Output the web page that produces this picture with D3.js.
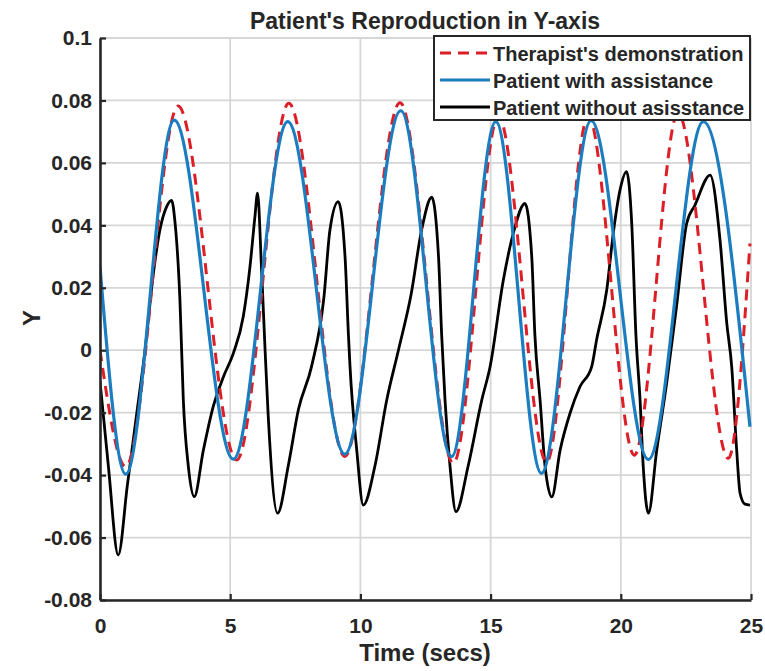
<!DOCTYPE html>
<html>
<head>
<meta charset="utf-8">
<script src="https://cdn.jsdelivr.net/npm/d3@7"></script>
<style>
  body { margin: 0; background: #fff; }
  text { font-family: 'Liberation Sans', Arial, sans-serif; font-weight: bold; fill: #262626; }
</style>
</head>
<body>
<svg id="chart" width="765" height="671"></svg>
<script>
// DATA
const therapist = [
  [0, 0.0], [0.99, -0.0373], [3.0, 0.0782], [5.25, -0.0352], [7.25, 0.0791],
  [9.4, -0.034], [11.52, 0.0793], [13.57, -0.0362], [15.3, 0.075], [17.15, -0.0358],
  [18.75, 0.075], [20.52, -0.0336], [22.2, 0.076], [24.13, -0.0346], [24.96, 0.0342]
];

const withAssist = [
  [0, 0.0267], [0.99, -0.0397], [2.85, 0.0737], [5.12, -0.0349], [7.21, 0.0732],
  [9.4, -0.0333], [11.55, 0.0767], [13.5, -0.0341], [15.2, 0.0732], [16.95, -0.0394],
  [18.86, 0.0735], [21.06, -0.035], [23.17, 0.0732], [24.96, -0.0245]
];

const withoutAssist = [
  [0, -0.01], [0.32, -0.037], [0.7, -0.0656], [1.05, -0.0433], [1.4, -0.021],
  [1.73, 0.0], [2.05, 0.0246], [2.3, 0.0385], [2.56, 0.046], [2.75, 0.048],
  [2.88, 0.041], [3.07, 0.016], [3.2, -0.016], [3.39, -0.037], [3.62, -0.0469],
  [3.97, -0.032], [4.35, -0.018], [4.74, -0.0085], [5.12, -0.001], [5.5, 0.0107],
  [5.76, 0.0268], [5.95, 0.0428], [6.05, 0.0503],
  [6.2, 0.0267], [6.34, 0.0], [6.46, -0.021], [6.82, -0.0522],
  [7.23, -0.037], [7.62, -0.019], [8.13, -0.005], [8.6, 0.017], [8.83, 0.0385], [9.15, 0.0476],
  [9.41, 0.03], [9.54, 0.005], [9.6, -0.005], [9.86, -0.032], [10.11, -0.0496],
  [10.56, -0.037], [11.01, -0.016], [11.46, 0.0], [11.95, 0.018], [12.35, 0.0385], [12.74, 0.049],
  [13.0, 0.03], [13.12, 0.005], [13.25, -0.016], [13.44, -0.037], [13.67, -0.0517],
  [14.14, -0.037], [14.66, -0.016], [14.98, -0.0053], [15.49, 0.0225], [15.87, 0.0374], [16.32, 0.047],
  [16.58, 0.03], [16.7, 0.005], [16.9, -0.016], [17.09, -0.037], [17.35, -0.047],
  [17.67, -0.032], [18.05, -0.0202], [18.43, -0.0117], [18.88, -0.0053], [19.07, 0.0033],
  [19.46, 0.0193], [19.71, 0.0374], [19.97, 0.0513], [20.22, 0.0572],
  [20.42, 0.0406], [20.58, 0.005], [20.74, -0.016], [20.86, -0.037], [21.06, -0.0522],
  [21.38, -0.032], [21.76, -0.0106], [22.14, 0.014], [22.53, 0.0406], [22.85, 0.0465], [23.43, 0.0561],
  [23.81, 0.0353], [24.07, 0.0086], [24.26, -0.0053], [24.45, -0.032], [24.58, -0.0458],
  [24.77, -0.0493], [24.96, -0.0496]
];

const xTicks = [0, 5, 10, 15, 20, 25];
const yTicks = [-0.08, -0.06, -0.04, -0.02, 0, 0.02, 0.04, 0.06, 0.08, 0.1];
const yTickLabels = ['-0.08', '-0.06', '-0.04', '-0.02', '0', '0.02', '0.04', '0.06', '0.08', '0.1'];

const seriesNames = ["Therapist's demonstration", 'Patient with assistance', 'Patient without asisstance'];

//SETUP
const svg = d3.select('#chart');
const plot = { left: 100, right: 751, top: 38, bottom: 600 };
const ink = '#262626';

const xScale = d3.scaleLinear().domain([0, 25]).range([plot.left, plot.right]);
const yScale = d3.scaleLinear().domain([-0.08, 0.1]).range([plot.bottom, plot.top]);

//GRID
const grid = svg.append('g').attr('stroke', '#d6d6d6').attr('stroke-width', 1.8);
grid.selectAll('.vgrid').data(xTicks).enter().append('line')
  .attr('x1', (d) => xScale(d)).attr('x2', (d) => xScale(d))
  .attr('y1', plot.top).attr('y2', plot.bottom);
grid.selectAll('.hgrid').data(yTicks).enter().append('line')
  .attr('y1', (d) => yScale(d)).attr('y2', (d) => yScale(d))
  .attr('x1', plot.left).attr('x2', plot.right);

//LINES
svg.append('clipPath').attr('id', 'clip').append('rect')
  .attr('x', plot.left).attr('y', plot.top - 10)
  .attr('width', plot.right - plot.left + 2).attr('height', plot.bottom - plot.top + 10);

const path = d3.line()
  .x((d) => xScale(d[0]))
  .y((d) => yScale(d[1]))
  .curve(d3.curveMonotoneX);

const lines = svg.append('g').attr('clip-path', 'url(#clip)').attr('fill', 'none');

lines.append('path').attr('d', path(withoutAssist))
  .attr('stroke', '#000').attr('stroke-width', 2.8).attr('stroke-linejoin', 'round');
lines.append('path').attr('d', path(therapist))
  .attr('stroke', '#dc1f26').attr('stroke-width', 3).attr('stroke-dasharray', '11,7');
lines.append('path').attr('d', path(withAssist))
  .attr('stroke', '#1b7dc0').attr('stroke-width', 3.2);

//AXIS
const xAxis = d3.axisBottom(xScale).tickValues(xTicks).tickSizeInner(-6).tickSizeOuter(0).tickPadding(18);
const gx = svg.append('g').attr('transform', `translate(0,${plot.bottom})`).call(xAxis);

const yAxis = d3.axisLeft(yScale).tickValues(yTicks).tickSizeInner(-6).tickSizeOuter(0).tickPadding(8)
  .tickFormat((d, i) => yTickLabels[i]);
const gy = svg.append('g').attr('transform', `translate(${plot.left},0)`).call(yAxis);

[gx, gy].forEach((g) => {
  g.select('.domain').attr('stroke', ink).attr('stroke-width', 2.6);
  g.selectAll('.tick line').attr('stroke', ink).attr('stroke-width', 2.2);
  g.selectAll('.tick text')
    .style('font-family', "'Liberation Sans', Arial, sans-serif")
    .style('font-weight', 'bold').style('font-size', '21px').attr('fill', ink);
});

//TEXT
svg.append('text').attr('x', 425).attr('y', 29).attr('text-anchor', 'middle')
  .style('font-size', '23px').text("Patient's Reproduction in Y-axis");

svg.append('text').attr('x', 425).attr('y', 661).attr('text-anchor', 'middle')
  .style('font-size', '24px').text('Time (secs)');

svg.append('text').attr('transform', 'translate(40,318) rotate(-90)').attr('text-anchor', 'middle')
  .style('font-size', '24px').text('Y');

//LEGEND
const legend = svg.append('g');
legend.append('rect').attr('x', 434).attr('y', 36).attr('width', 316).attr('height', 84)
  .attr('fill', '#fff').attr('stroke', ink).attr('stroke-width', 2);

const legendStyles = [
  { color: '#dc1f26', width: 3, dash: '11,7' },
  { color: '#1b7dc0', width: 3.2, dash: null },
  { color: '#000', width: 2.8, dash: null },
];

const rows = legend.selectAll('.row').data(seriesNames).enter().append('g')
  .attr('transform', (d, i) => `translate(0,${53 + i * 27})`);

rows.append('line').attr('x1', 440).attr('x2', 490).attr('y1', 0).attr('y2', 0)
  .attr('stroke', (d, i) => legendStyles[i].color)
  .attr('stroke-width', (d, i) => legendStyles[i].width)
  .attr('stroke-dasharray', (d, i) => legendStyles[i].dash);

rows.append('text').attr('x', 493).attr('y', 8)
  .style('font-size', '20px').text((d) => d);
</script>
</body>
</html>
